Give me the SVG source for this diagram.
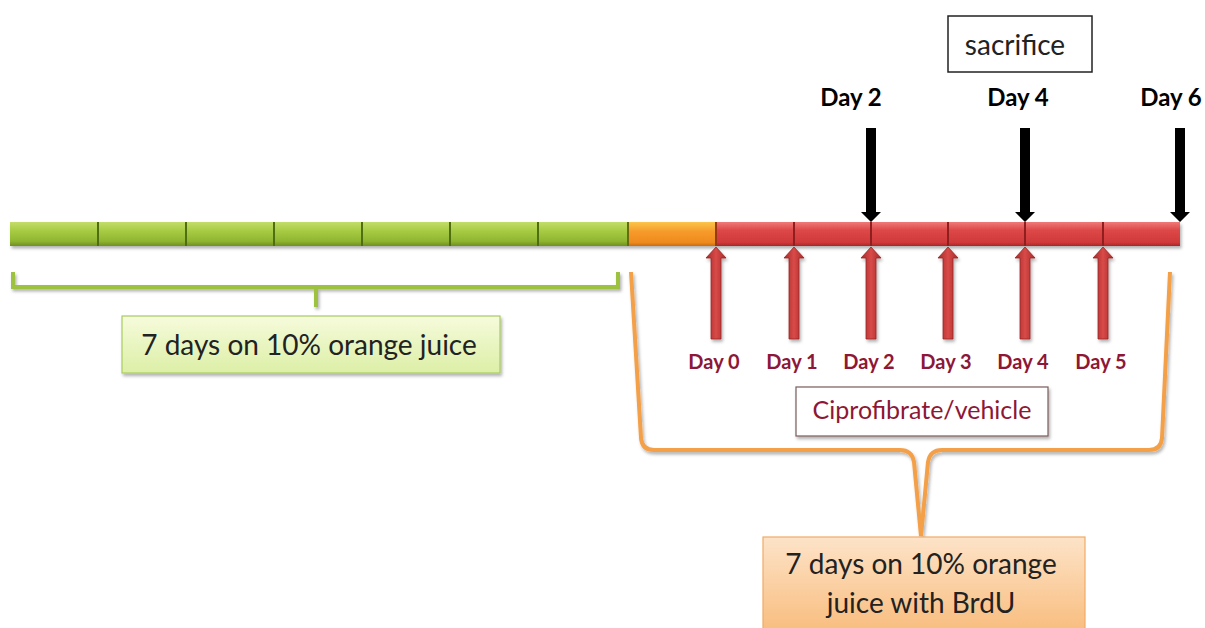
<svg xmlns="http://www.w3.org/2000/svg" width="1205" height="628" viewBox="0 0 1205 628">
<defs>
<linearGradient id="gGreen" x1="0" y1="0" x2="0" y2="1">
<stop offset="0" stop-color="#c4dd6a"/><stop offset="0.35" stop-color="#a9cc45"/><stop offset="0.8" stop-color="#8fb531"/><stop offset="1" stop-color="#6f8f20"/>
</linearGradient>
<linearGradient id="gOrange" x1="0" y1="0" x2="0" y2="1">
<stop offset="0" stop-color="#fbc54a"/><stop offset="0.4" stop-color="#f79a2b"/><stop offset="0.85" stop-color="#ef8a1e"/><stop offset="1" stop-color="#c96d12"/>
</linearGradient>
<linearGradient id="gRed" x1="0" y1="0" x2="0" y2="1">
<stop offset="0" stop-color="#ef7a78"/><stop offset="0.35" stop-color="#dd4747"/><stop offset="0.85" stop-color="#cf3a3a"/><stop offset="1" stop-color="#a52828"/>
</linearGradient>
<linearGradient id="gRedArrow" x1="0" y1="0" x2="1" y2="0">
<stop offset="0" stop-color="#a72a2a"/><stop offset="0.5" stop-color="#d84a48"/><stop offset="1" stop-color="#a72a2a"/>
</linearGradient>
<linearGradient id="gGreenBox" x1="0" y1="0" x2="0" y2="1">
<stop offset="0" stop-color="#f6fbdc"/><stop offset="1" stop-color="#dcefa6"/>
</linearGradient>
<linearGradient id="gOrangeBox" x1="0" y1="0" x2="0" y2="1">
<stop offset="0" stop-color="#fde3c8"/><stop offset="1" stop-color="#f8bb7a"/>
</linearGradient>
<filter id="sh" x="-10%" y="-20%" width="130%" height="150%">
<feDropShadow dx="1.5" dy="2.5" stdDeviation="1.5" flood-color="#000" flood-opacity="0.3"/>
</filter>
<g id="redArrow">
<path d="M-5,90 L-5,9 L-10,9 L0,-2 L10,9 L5,9 L5,90 Z" fill="url(#gRedArrow)" stroke="#9a2424" stroke-width="0.8"/>
</g>
<g id="blackArrow">
<path d="M-5,0 L-5,84 L-10,84 L0,94 L10,84 L5,84 L5,0 Z" fill="#000"/>
</g>
</defs>
<style>
.t{font-family:Lato,"Open Sans","Liberation Sans",sans-serif;}
.bl{font-weight:bold;font-size:24px;fill:#000;}
.rd{font-weight:bold;font-size:20px;fill:#8e1636;}
.div{stroke-width:2;}
</style>
<rect width="1205" height="628" fill="#fff"/>

<g id="timeline" filter="url(#sh)">
<rect x="10" y="222" width="618" height="24" fill="url(#gGreen)"/>
<rect x="628" y="222" width="88" height="24" fill="url(#gOrange)"/>
<rect x="716" y="222" width="464" height="24" fill="url(#gRed)"/>
</g>
<g id="dividers" class="div">
<g stroke="#4f6e12">
<line x1="98" y1="222" x2="98" y2="246"/><line x1="186" y1="222" x2="186" y2="246"/>
<line x1="274" y1="222" x2="274" y2="246"/><line x1="362" y1="222" x2="362" y2="246"/>
<line x1="450" y1="222" x2="450" y2="246"/><line x1="538" y1="222" x2="538" y2="246"/>
<line x1="628" y1="222" x2="628" y2="246" stroke="#6a6a10"/>
</g>
<line x1="716" y1="222" x2="716" y2="246" stroke="#9a3a14"/>
<g stroke="#8f1f1f">
<line x1="794" y1="222" x2="794" y2="246"/><line x1="871" y1="222" x2="871" y2="246"/>
<line x1="948" y1="222" x2="948" y2="246"/><line x1="1025" y1="222" x2="1025" y2="246"/>
<line x1="1103" y1="222" x2="1103" y2="246"/>
</g>
</g>

<g id="connectors">
<g id="sacrifice-arrows">
<use href="#blackArrow" x="871" y="128"/>
<use href="#blackArrow" x="1025" y="128"/>
<use href="#blackArrow" x="1180" y="128"/>
</g>
<g id="dose-arrows" filter="url(#sh)">
<use href="#redArrow" x="716" y="249"/>
<use href="#redArrow" x="794" y="249"/>
<use href="#redArrow" x="871" y="249"/>
<use href="#redArrow" x="948" y="249"/>
<use href="#redArrow" x="1025" y="249"/>
<use href="#redArrow" x="1103" y="249"/>
</g>
<path id="green-bracket" d="M13,272 L13,287 L618,287 L618,272 M316,287 L316,307" fill="none" stroke="#9cc23f" stroke-width="4" filter="url(#sh)"/>
<path id="orange-brace" d="M631,272 L641,438 Q642,450 654,450 L900,450 Q912,450 914,462 L921,536 M1170,272 L1162,438 Q1161,450 1149,450 L942,450 Q930,450 928,462 L921,536" fill="none" stroke="#f4a048" stroke-width="4" stroke-linejoin="round" filter="url(#sh)"/>
</g>

<g id="sacrifice">
<rect x="948" y="16" width="144" height="56" fill="#fff" stroke="#222" stroke-width="1.5"/>
<text class="t" x="1015" y="55" text-anchor="middle" font-size="28" fill="#222">sacrifice</text>
</g>
<g id="top-labels">
<text class="t bl" x="851" y="106" text-anchor="middle">Day 2</text>
<text class="t bl" x="1018" y="106" text-anchor="middle">Day 4</text>
<text class="t bl" x="1171" y="106" text-anchor="middle">Day 6</text>
</g>
<g id="day-labels">
<text class="t rd" x="714" y="369" text-anchor="middle">Day 0</text>
<text class="t rd" x="792" y="369" text-anchor="middle">Day 1</text>
<text class="t rd" x="869" y="369" text-anchor="middle">Day 2</text>
<text class="t rd" x="946" y="369" text-anchor="middle">Day 3</text>
<text class="t rd" x="1023" y="369" text-anchor="middle">Day 4</text>
<text class="t rd" x="1101" y="369" text-anchor="middle">Day 5</text>
</g>
<g id="ciprofibrate">
<rect x="796" y="387" width="252" height="49" fill="#fff" stroke="#7a5a5a" stroke-width="1.2" filter="url(#sh)"/>
<text class="t" x="922" y="419" text-anchor="middle" font-size="25" fill="#8e1636">Ciprofibrate/vehicle</text>
</g>
<g id="green-box">
<rect x="122" y="316" width="378" height="57" fill="url(#gGreenBox)" stroke="#a9cc60" stroke-width="1.2" filter="url(#sh)"/>
<text class="t" x="309" y="355" text-anchor="middle" font-size="28" fill="#222">7 days on 10% orange juice</text>
</g>
<g id="orange-box">
<rect x="763" y="537" width="322" height="100" fill="url(#gOrangeBox)" stroke="#f2aa66" stroke-width="1.2"/>
<text class="t" x="921" y="574" text-anchor="middle" font-size="28" fill="#222">7 days on 10% orange</text>
<text class="t" x="921" y="613" text-anchor="middle" font-size="28" fill="#222">juice with BrdU</text>
</g>
</svg>
